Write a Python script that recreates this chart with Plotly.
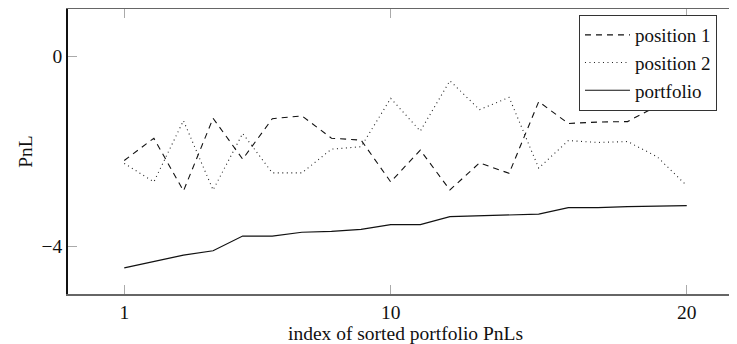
import plotly.graph_objects as go

index = list(range(1, 21))
position_1 = [-2.19, -1.72, -2.83, -1.30, -2.16, -1.31, -1.25, -1.72, -1.76, -2.64,
              -1.97, -2.81, -2.24, -2.46, -0.95, -1.41, -1.38, -1.37, -1.04, -0.42]
position_2 = [-2.25, -2.64, -1.35, -2.81, -1.62, -2.45, -2.45, -1.95, -1.90, -0.88,
              -1.57, -0.51, -1.12, -0.86, -2.35, -1.77, -1.81, -1.79, -2.11, -2.72]
portfolio = [-4.45, -4.32, -4.18, -4.09, -3.78, -3.78, -3.70, -3.68, -3.64, -3.54,
             -3.54, -3.37, -3.35, -3.33, -3.32, -3.18, -3.18, -3.16, -3.15, -3.14]
x_ticks = [1, 10, 20]
y_ticks = [-4, 0]

FONT = "'Liberation Serif', 'Times New Roman', serif"
FS = 19.5

fig = go.Figure()
fig.add_trace(go.Scatter(x=index, y=position_1, mode="lines", name="position 1",
                         line=dict(color="#111", width=1.1, dash="6px,5px")))
fig.add_trace(go.Scatter(x=index, y=position_2, mode="lines", name="position 2",
                         line=dict(color="#222", width=1.1, dash="1px,3.5px")))
fig.add_trace(go.Scatter(x=index, y=portfolio, mode="lines", name="portfolio",
                         line=dict(color="#111", width=1.2)))
# invisible trace to carry the right-hand tick axis
fig.add_trace(go.Scatter(x=index, y=portfolio, mode="lines", yaxis="y2",
                         showlegend=False, hoverinfo="skip", opacity=0,
                         line=dict(width=0)))

# The page body has an 8px margin, so the figure is offset by 8px; the plot
# frame extends slightly beyond the right edge of the window as in the reference.
fig.update_layout(
    width=735, height=336,
    margin=dict(l=60, r=0, t=1, b=50, autoexpand=False),
    paper_bgcolor="white", plot_bgcolor="white",
    font=dict(family=FONT, size=FS, color="#111"),
    showlegend=True,
    legend=dict(x=0.757, y=0.979, xanchor="left", yanchor="top",
                bgcolor="white", bordercolor="#333", borderwidth=1,
                font=dict(family=FONT, size=19, color="#111"),
                tracegroupgap=0, itemwidth=45, entrywidth=145, entrywidthmode="pixels"),
    xaxis=dict(range=[-0.9, 21.9], tickvals=x_ticks, ticktext=[str(v) for v in x_ticks],
               ticks="inside", ticklen=9, tickcolor="#aaa", tickwidth=1,
               showline=True, linecolor="#666", linewidth=1.6, mirror="ticks",
               showgrid=False, zeroline=False, automargin=False,
               tickfont=dict(family=FONT, size=FS),
               title=dict(text="index of sorted portfolio PnLs", standoff=6,
                          font=dict(family=FONT, size=FS))),
    yaxis=dict(range=[-5.0, 1.0], tickvals=y_ticks, ticktext=["\u22124", "0"],
               ticks="inside", ticklen=9, tickcolor="#aaa", tickwidth=1,
               showline=True, linecolor="#111", linewidth=1.6, mirror=False,
               showgrid=False, zeroline=False, ticklabelstandoff=0, automargin=False,
               tickfont=dict(family=FONT, size=FS),
               title=dict(text="PnL", standoff=4, font=dict(family=FONT, size=FS))),
    yaxis2=dict(range=[-5.0, 1.0], overlaying="y", side="right", tickvals=y_ticks,
                ticks="inside", ticklen=9, tickcolor="#aaa", tickwidth=1, automargin=False,
                showticklabels=False, showline=False, showgrid=False, zeroline=False),
)

fig.write_html("out.html")
